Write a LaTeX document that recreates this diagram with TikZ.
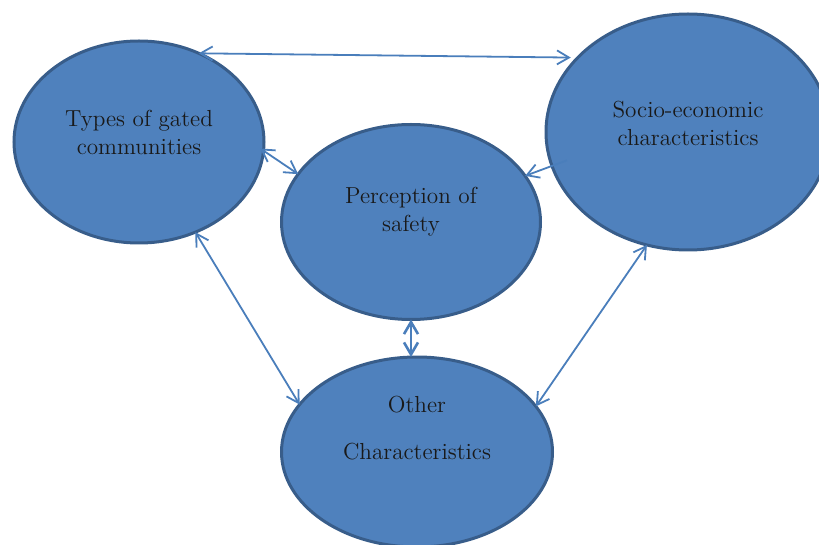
\documentclass[tikz,border=0pt]{standalone}
\usepackage{tikz}
\usetikzlibrary{arrows.meta,shapes.geometric}
\definecolor{ovalblue}{HTML}{4F81BD}
\definecolor{ovalrim}{HTML}{385D8A}
\definecolor{linkblue}{HTML}{4A7EBB}

\begin{document}
\begin{tikzpicture}[x=0.5pt,y=-0.5pt]
    \tikzstyle{bubble}=[ellipse,draw=ovalrim,fill=ovalblue,line width=1.5pt,inner sep=0pt,outer sep=0pt]
    \tikzstyle{caption}=[align=center,font=\fontsize{11.6}{14}\selectfont,text=black!90]
    \tikzstyle{link}=[linkblue,line width=0.9pt,{Straight Barb[length=6pt,width=7pt]}-{Straight Barb[length=6pt,width=7pt]}]
    \tikzstyle{oneway}=[linkblue,line width=0.9pt,-{Straight Barb[length=6pt,width=7pt]}]
    \useasboundingbox (0,0) rectangle (819,545);
    % the four ovals
    \node (types)  at (139,142) [bubble,minimum width=125pt,minimum height=101pt] {};
    \node (socio)  at (688,132) [bubble,minimum width=142pt,minimum height=118pt] {};
    \node (safety) at (411,222) [bubble,minimum width=129.5pt,minimum height=97.5pt] {};
    \node (other)  at (417,452) [bubble,minimum width=135.5pt,minimum height=95pt] {};
    \node (types-t)  at (139,132) [caption] {Types of gated\\communities};
    \node (socio-t)  at (688,123) [caption] {Socio-economic\\characteristics};
    \node (safety-t) at (411,212) [caption] {Perception of\\safety};
    \node (other-t)  at (417,428) [caption] {Other\\[9.5pt]Characteristics};
    % links
    \draw [link,shorten >=3.5pt] (types.56) -- (socio.146);
    \draw [link,shorten <=-2pt]  (types.-4) -- (safety.157);
    \draw [oneway,shorten <=-8pt] (socio.194) -- (safety.22);
    \draw [link,line width=1.3pt] (safety.south) -- (safety.south |- other.north);
    \draw [link]   (types.-58) -- (other.158);
    \draw [link]   (socio.250) -- (other.21);
\end{tikzpicture}
\end{document}
